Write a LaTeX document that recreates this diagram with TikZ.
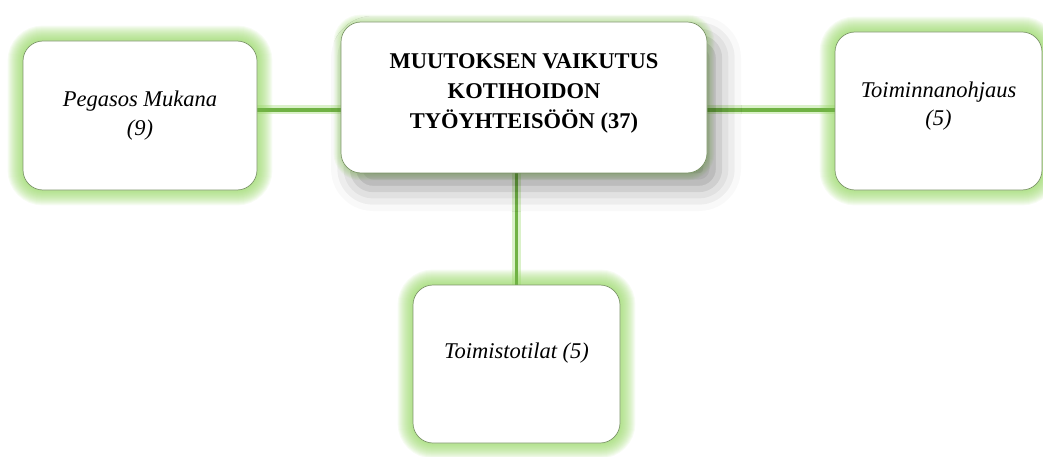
\documentclass[tikz,border=0pt]{standalone}
\usepackage{fontspec}
\setmainfont{Liberation Serif}
\usetikzlibrary{backgrounds,shadows.blur,calc}
\definecolor{glowgreen}{RGB}{150,215,100}
\definecolor{linkgreen}{RGB}{112,178,68}
\definecolor{rimgreen}{RGB}{125,150,105}
\tikzset{
  box/.style={draw=rimgreen, line width=0.7pt, fill=white, rounded corners=20pt,
    inner sep=0pt},
  lbl/.style={align=center, font=\fontsize{22.5}{28.5}\selectfont\itshape},
  title/.style={align=center, font=\fontsize{22.5}{30}\selectfont\bfseries},
  glow/.style={draw=glowgreen, line width=#1, draw opacity=0.08, rounded corners=20pt},
  linkhalo/.style={draw=glowgreen, line width=9pt, draw opacity=0.35},
  link/.style={draw=linkgreen, line width=3.5pt},
}
\begin{document}
\begin{tikzpicture}[x=1pt,y=-1pt]
  \useasboundingbox (0,0) rectangle (1043,457);

  % boxes
  \node[box, minimum width=234pt, minimum height=149pt] (L) at (140,115.5) {};
  \node[box, minimum width=366pt, minimum height=151pt,
        blur shadow={shadow xshift=12pt, shadow yshift=-16pt, shadow blur radius=22pt,
        shadow opacity=38}] (C) at (524,97.5) {};
  \node[box, minimum width=207pt, minimum height=158pt] (R) at (938.5,111) {};
  \node[box, minimum width=207pt, minimum height=158pt] (B) at (516.5,364) {};

  % soft green halo round each box and the links
  \begin{scope}[on background layer]
    \foreach \n in {L,R,B}{
      \foreach \w in {2,4,...,30}{
        \draw[glow=\w pt] (\n.south west) rectangle (\n.north east);
      }
    }
    \foreach \w in {2,4,...,14}{
      \draw[glow=\w pt] (C.south west) rectangle (C.north east);
    }
    \coordinate (hl) at (0,110);
    \draw[linkhalo] (L.east |- hl) -- (C.west |- hl);
    \draw[linkhalo] (C.east |- hl) -- (R.west |- hl);
    \draw[linkhalo] (B.north |- C.south) -- (B.north);
    \draw[link] (L.east |- hl) -- (C.west |- hl);
    \draw[link] (C.east |- hl) -- (R.west |- hl);
    \draw[link] (B.north |- C.south) -- (B.north);
  \end{scope}

  % texts
  \node[title] at ([yshift=4pt]C.center) {MUUTOKSEN VAIKUTUS\\KOTIHOIDON\\TYÖYHTEISÖÖN (37)};
  \node[lbl] at (L.center) {Pegasos Mukana\\(9)};
  \node[lbl] at ([yshift=5pt]R.center) {Toiminnanohjaus\\(5)};
  \node[lbl] at ([yshift=11pt]B.center) {Toimistotilat (5)};
\end{tikzpicture}
\end{document}
